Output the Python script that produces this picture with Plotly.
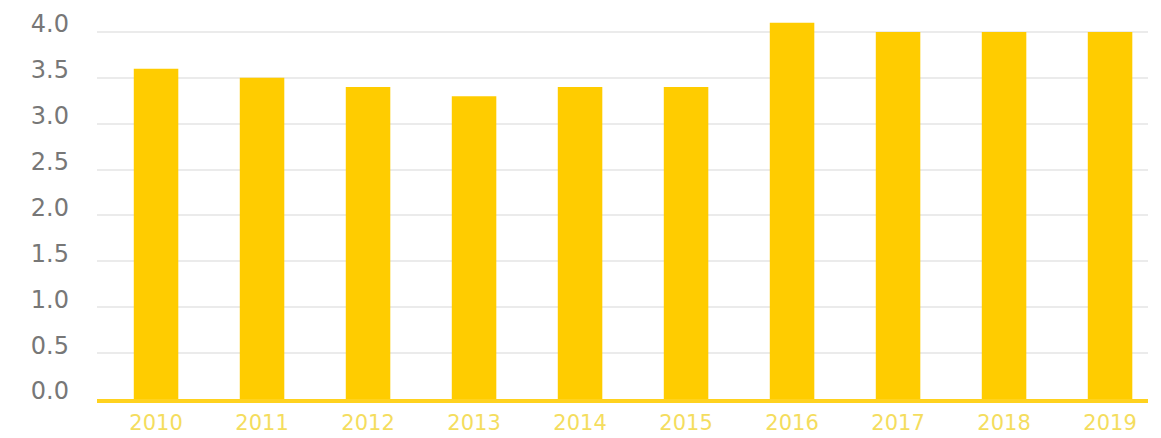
import plotly.graph_objects as go

years = [2010, 2011, 2012, 2013, 2014, 2015, 2016, 2017, 2018, 2019]
values = [3.6, 3.5, 3.4, 3.3, 3.4, 3.4, 4.1, 4.0, 4.0, 4.0]
y_ticks = [0.0, 0.5, 1.0, 1.5, 2.0, 2.5, 3.0, 3.5, 4.0]

fig = go.Figure(go.Bar(x=years, y=values, width=0.42,
                       marker=dict(color="#FFCC00", line=dict(width=0)),
                       hoverinfo="x+y"))

fig.update_layout(
    width=1161, height=438,
    margin=dict(l=89, r=21, t=1, b=47),
    paper_bgcolor="white", plot_bgcolor="white",
    showlegend=False,
    font=dict(family="DejaVu Sans, Arial, sans-serif"),
)
fig.update_xaxes(
    range=[2009.443, 2019.358],
    tickvals=years, ticktext=[str(y) for y in years],
    showline=True, linecolor="#FFD21F", linewidth=4,
    showgrid=False, zeroline=False, ticks="",
    tickfont=dict(size=21, color="#F4DD5E"),
    ticklabelstandoff=2,
    automargin=False,
)
fig.update_yaxes(
    range=[0, 4.25],
    tickvals=y_ticks, ticktext=[f"{v:.1f}" for v in y_ticks],
    showgrid=True, gridcolor="#EBEBEB", gridwidth=2,
    zeroline=False, showline=False, ticks="",
    tickfont=dict(size=24, color="#777777"),
    ticklabelstandoff=27,
    ticklabelshift=-8,
    automargin=False,
)

fig.write_html("out.html")
